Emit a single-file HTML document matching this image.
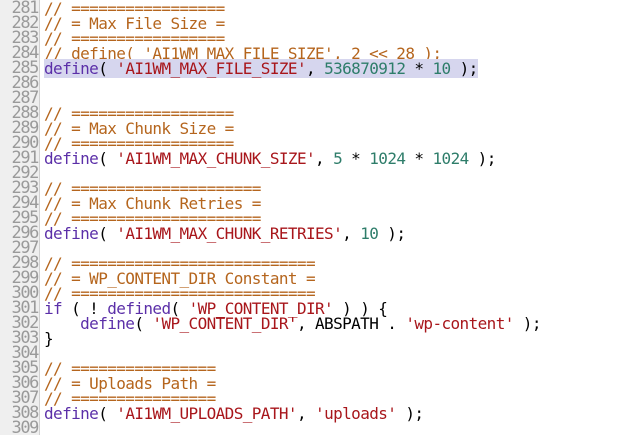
<!DOCTYPE html>
<html><head><meta charset="utf-8"><style>
html,body{margin:0;padding:0;background:#fff;width:621px;height:435px;overflow:hidden}
.wrap{position:relative;width:621px;height:435px;font-family:"DejaVu Sans Mono","Liberation Mono",monospace;font-size:16px;line-height:15px;letter-spacing:-0.6px}
.gut{position:absolute;left:0;top:0;width:39px;height:435px;background:#efefef;border-right:1px solid #d0d0d0}
.ln{position:absolute;left:0;width:38px;text-align:right;color:#9a9a9a;font-size:17px;letter-spacing:-1.4px}
.code{position:absolute;left:44px;white-space:pre;color:#000}
.c{color:#b5651d}.k{color:#5b2fa8}.s{color:#a8161b}.n{color:#2e7d6a}
.hl{background:#d6d6ee}
</style></head><body><div class="wrap">
<div class="gut"></div>
<div class="ln" style="top:1px">281<br>282<br>283<br>284<br>285<br>286<br>287<br>288<br>289<br>290<br>291<br>292<br>293<br>294<br>295<br>296<br>297<br>298<br>299<br>300<br>301<br>302<br>303<br>304<br>305<br>306<br>307<br>308<br>309</div>
<div class="code" style="top:1px"><span class="c">// =================</span>
<span class="c">// = Max File Size =</span>
<span class="c">// =================</span>
<span class="c">// define( 'AI1WM_MAX_FILE_SIZE', 2 &lt;&lt; 28 );</span>
<span class="hl"><span class="k">define</span>( <span class="s">'AI1WM_MAX_FILE_SIZE'</span>, <span class="n">536870912</span> * <span class="n">10</span> );</span>


<span class="c">// ==================</span>
<span class="c">// = Max Chunk Size =</span>
<span class="c">// ==================</span>
<span class="k">define</span>( <span class="s">'AI1WM_MAX_CHUNK_SIZE'</span>, <span class="n">5</span> * <span class="n">1024</span> * <span class="n">1024</span> );

<span class="c">// =====================</span>
<span class="c">// = Max Chunk Retries =</span>
<span class="c">// =====================</span>
<span class="k">define</span>( <span class="s">'AI1WM_MAX_CHUNK_RETRIES'</span>, <span class="n">10</span> );

<span class="c">// ===========================</span>
<span class="c">// = WP_CONTENT_DIR Constant =</span>
<span class="c">// ===========================</span>
<span class="k">if</span> ( ! <span class="k">defined</span>( <span class="s">'WP_CONTENT_DIR'</span> ) ) {
    <span class="k">define</span>( <span class="s">'WP_CONTENT_DIR'</span>, ABSPATH . <span class="s">'wp-content'</span> );
}

<span class="c">// ================</span>
<span class="c">// = Uploads Path =</span>
<span class="c">// ================</span>
<span class="k">define</span>( <span class="s">'AI1WM_UPLOADS_PATH'</span>, <span class="s">'uploads'</span> );
</div>
</div></body></html>
